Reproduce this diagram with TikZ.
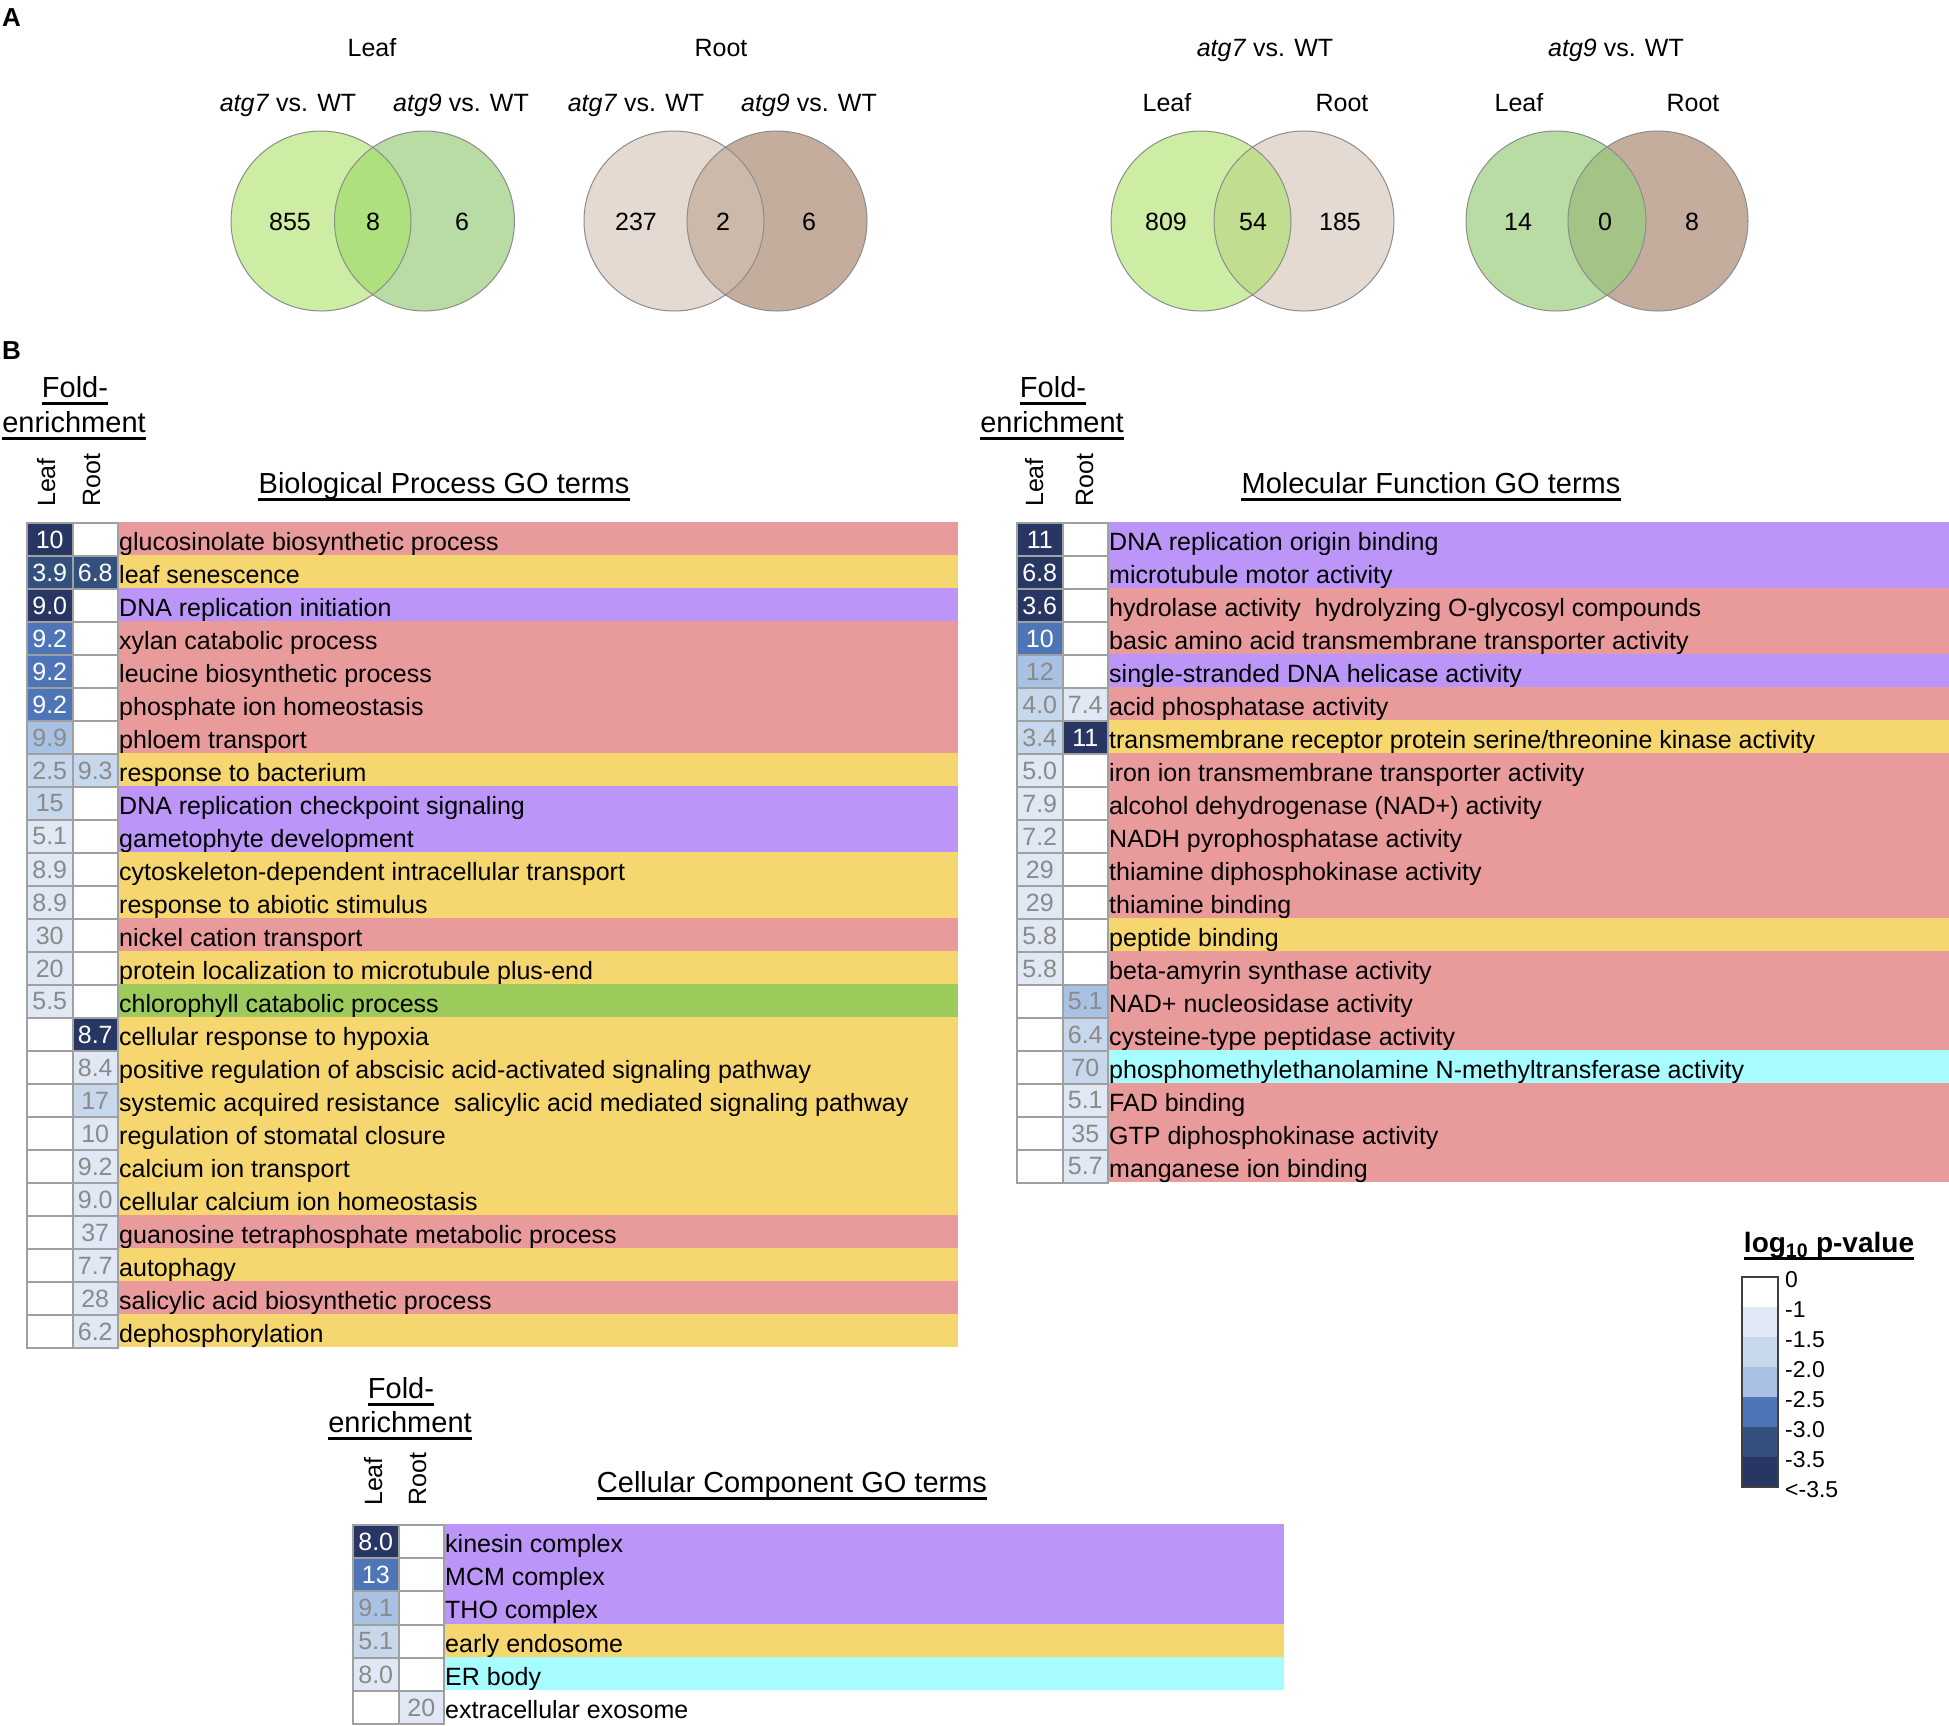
\documentclass[tikz,border=0pt]{standalone}
\usepackage{fontspec}
\setmainfont{Liberation Sans}
\usetikzlibrary{calc}
\definecolor{pv2}{HTML}{DFE8F4}
\definecolor{pv3}{HTML}{C7D7EC}
\definecolor{pv4}{HTML}{A9C2E4}
\definecolor{pv5}{HTML}{4E75B7}
\definecolor{pv6}{HTML}{34507E}
\definecolor{pv7}{HTML}{283663}
\definecolor{numgray}{HTML}{8A8A8A}
\definecolor{cellborder}{HTML}{A0A0A0}
\definecolor{goRed}{HTML}{E99B9B}
\definecolor{goYel}{HTML}{F5D66F}
\definecolor{goPur}{HTML}{BC95F8}
\definecolor{goGrn}{HTML}{9CCB5B}
\definecolor{goCyn}{HTML}{A6FCFE}
\definecolor{lfA}{HTML}{CDEDA5}
\definecolor{lfB}{HTML}{B9DCA5}
\definecolor{lfO}{HTML}{AEE07D}
\definecolor{rtA}{HTML}{E4DAD2}
\definecolor{rtB}{HTML}{C4AD9C}
\definecolor{rtO}{HTML}{CDB9AA}
\definecolor{mxO}{HTML}{C1DE90}
\definecolor{myO}{HTML}{A4C387}
\definecolor{vline}{HTML}{8C8C8C}

\tikzset{
  cellbox/.style={draw=cellborder, line width=2pt, minimum width=45.5pt, minimum height=\rowh pt,
    inner sep=0pt, anchor=north west, font=\fontsize{25}{25}\selectfont},
  lv1/.style={fill=white},
  lv2/.style={fill=pv2,text=numgray},
  lv3/.style={fill=pv3,text=numgray},
  lv4/.style={fill=pv4,text=numgray},
  lv5/.style={fill=pv5,text=white},
  lv6/.style={fill=pv6,text=white},
  lv7/.style={fill=pv7,text=white},
  rowtext/.style={anchor=base west, inner sep=0pt, font=\fontsize{25}{25}\selectfont},
  lbl/.style={anchor=base, inner sep=0pt, font=\fontsize{25}{25}\selectfont},
  vtext/.style={anchor=base west, rotate=90, inner sep=0pt, font=\fontsize{25}{25}\selectfont},
  vennline/.style={draw=vline, line width=1pt},
  leglbl/.style={anchor=west, inner sep=0pt, font=\fontsize{23}{23}\selectfont},
  panel/.style={anchor=base west, inner sep=0pt, font=\fontsize{26}{26}\selectfont\bfseries}
}

% #1 name, #2 row index, #3 leaf val, #4 leaf lvl, #5 root val, #6 root lvl, #7 bar colour, #8 text
\newcommand{\gorow}[8]{%
  \pgfmathsetmacro{\rt}{\rowtop+\rowh*#2}%
  \fill[#7] (\colx+91,\rt) rectangle (\barx,\rt+\rowh);
  \node[cellbox,lv#4] (#1-l) at (\colx,\rt) {\lower2.5pt\hbox{#3}};
  \node[cellbox,lv#6] (#1-r) at (\colx+45.5,\rt) {\lower2.5pt\hbox{#5}};
  \node[rowtext] (#1-t) at (\colx+93,\rt+28.5) {#8};
}
% underlined text: #1 name, #2 x, #3 baseline y, #4 size, #5 text
\newcommand{\ulnode}[5]{%
  \node[anchor=base, inner sep=0pt, font=\fontsize{#4}{#4}\selectfont] (#1) at (#2,#3) {#5};
  \draw[line width=2.8pt] ([yshift=-6.5pt]#1.base west) -- ([yshift=-6.5pt]#1.base east);
}
% venn: #1 left cx, #2 right cx, #3 left col, #4 right col, #5 overlap col
\newcommand{\vennpair}[5]{%
  \fill[#3] (#1,221) circle[radius=90];
  \fill[#4] (#2,221) circle[radius=90];
  \begin{scope}
    \clip (#1,221) circle[radius=90];
    \fill[#5] (#2,221) circle[radius=90];
  \end{scope}
  \draw[vennline] (#1,221) circle[radius=90] (#2,221) circle[radius=90];
}

\begin{document}
\begin{tikzpicture}[x=1pt,y=-1pt]
\useasboundingbox (0,0) rectangle (1949,1725);
\fill[white] (0,0) rectangle (1949,1725);

% ---------------- Panel A ----------------
\node[panel] (pA) at (2,26) {A};
\node[lbl] (hLeaf) at (372,56) {Leaf};
\node[lbl] (hRoot) at (721,56) {Root};
\node[lbl] (h7) at (1265,56) {\textit{atg7} vs. WT};
\node[lbl] (h9) at (1616,56) {\textit{atg9} vs. WT};

\node[lbl] (s1a) at (288,111) {\textit{atg7} vs. WT};
\node[lbl] (s1b) at (461,111) {\textit{atg9} vs. WT};
\node[lbl] (s2a) at (636,111) {\textit{atg7} vs. WT};
\node[lbl] (s2b) at (809,111) {\textit{atg9} vs. WT};
\node[lbl] (s3a) at (1167,111) {Leaf};
\node[lbl] (s3b) at (1342,111) {Root};
\node[lbl] (s4a) at (1519,111) {Leaf};
\node[lbl] (s4b) at (1693,111) {Root};

\vennpair{321}{424.5}{lfA}{lfB}{lfO}
\vennpair{674}{777}{rtA}{rtB}{rtO}
\vennpair{1201}{1304}{lfA}{rtA}{mxO}
\vennpair{1556}{1658}{lfB}{rtB}{myO}

\node[lbl] (n1a) at (290,230) {855};
\node[lbl] (n1o) at (373,230) {8};
\node[lbl] (n1b) at (462,230) {6};
\node[lbl] (n2a) at (636,230) {237};
\node[lbl] (n2o) at (723,230) {2};
\node[lbl] (n2b) at (809,230) {6};
\node[lbl] (n3a) at (1166,230) {809};
\node[lbl] (n3o) at (1253,230) {54};
\node[lbl] (n3b) at (1340,230) {185};
\node[lbl] (n4a) at (1518,230) {14};
\node[lbl] (n4o) at (1605,230) {0};
\node[lbl] (n4b) at (1692,230) {8};

% ---------------- Panel B ----------------
\node[panel] (pB) at (2,359) {B};

% Biological process
\ulnode{bpF1}{75}{397}{29}{Fold-}
\ulnode{bpF2}{74}{432}{29}{enrichment}
\node[vtext] (bpVL) at (55,507) {Leaf};
\node[vtext] (bpVR) at (100,507) {Root};
\ulnode{bpT}{444}{493}{29}{Biological Process GO terms}

\def\colx{26}\def\rowtop{522}\def\rowh{33}\def\barx{958}
\gorow{bp0}{0}{10}{7}{}{1}{goRed}{glucosinolate biosynthetic process}
\gorow{bp1}{1}{3.9}{6}{6.8}{6}{goYel}{leaf senescence}
\gorow{bp2}{2}{9.0}{7}{}{1}{goPur}{DNA replication initiation}
\gorow{bp3}{3}{9.2}{5}{}{1}{goRed}{xylan catabolic process}
\gorow{bp4}{4}{9.2}{5}{}{1}{goRed}{leucine biosynthetic process}
\gorow{bp5}{5}{9.2}{5}{}{1}{goRed}{phosphate ion homeostasis}
\gorow{bp6}{6}{9.9}{4}{}{1}{goRed}{phloem transport}
\gorow{bp7}{7}{2.5}{3}{9.3}{3}{goYel}{response to bacterium}
\gorow{bp8}{8}{15}{3}{}{1}{goPur}{DNA replication checkpoint signaling}
\gorow{bp9}{9}{5.1}{2}{}{1}{goPur}{gametophyte development}
\gorow{bp10}{10}{8.9}{2}{}{1}{goYel}{cytoskeleton-dependent intracellular transport}
\gorow{bp11}{11}{8.9}{2}{}{1}{goYel}{response to abiotic stimulus}
\gorow{bp12}{12}{30}{2}{}{1}{goRed}{nickel cation transport}
\gorow{bp13}{13}{20}{2}{}{1}{goYel}{protein localization to microtubule plus-end}
\gorow{bp14}{14}{5.5}{2}{}{1}{goGrn}{chlorophyll catabolic process}
\gorow{bp15}{15}{}{1}{8.7}{7}{goYel}{cellular response to hypoxia}
\gorow{bp16}{16}{}{1}{8.4}{2}{goYel}{positive regulation of abscisic acid-activated signaling pathway}
\gorow{bp17}{17}{}{1}{17}{3}{goYel}{systemic acquired resistance\ \ salicylic acid mediated signaling pathway}
\gorow{bp18}{18}{}{1}{10}{2}{goYel}{regulation of stomatal closure}
\gorow{bp19}{19}{}{1}{9.2}{2}{goYel}{calcium ion transport}
\gorow{bp20}{20}{}{1}{9.0}{2}{goYel}{cellular calcium ion homeostasis}
\gorow{bp21}{21}{}{1}{37}{2}{goRed}{guanosine tetraphosphate metabolic process}
\gorow{bp22}{22}{}{1}{7.7}{2}{goYel}{autophagy}
\gorow{bp23}{23}{}{1}{28}{2}{goRed}{salicylic acid biosynthetic process}
\gorow{bp24}{24}{}{1}{6.2}{2}{goYel}{dephosphorylation}

% Molecular function
\ulnode{mfF1}{1053}{397}{29}{Fold-}
\ulnode{mfF2}{1052}{432}{29}{enrichment}
\node[vtext] (mfVL) at (1043,507) {Leaf};
\node[vtext] (mfVR) at (1093,507) {Root};
\ulnode{mfT}{1431}{493}{29}{Molecular Function GO terms}

\def\colx{1016}\def\rowtop{522}\def\rowh{33}\def\barx{1949}
\gorow{mf0}{0}{11}{7}{}{1}{goPur}{DNA replication origin binding}
\gorow{mf1}{1}{6.8}{7}{}{1}{goPur}{microtubule motor activity}
\gorow{mf2}{2}{3.6}{7}{}{1}{goRed}{hydrolase activity\ \ hydrolyzing O-glycosyl compounds}
\gorow{mf3}{3}{10}{5}{}{1}{goRed}{basic amino acid transmembrane transporter activity}
\gorow{mf4}{4}{12}{4}{}{1}{goPur}{single-stranded DNA helicase activity}
\gorow{mf5}{5}{4.0}{3}{7.4}{2}{goRed}{acid phosphatase activity}
\gorow{mf6}{6}{3.4}{3}{11}{7}{goYel}{transmembrane receptor protein serine/threonine kinase activity}
\gorow{mf7}{7}{5.0}{2}{}{1}{goRed}{iron ion transmembrane transporter activity}
\gorow{mf8}{8}{7.9}{2}{}{1}{goRed}{alcohol dehydrogenase (NAD+) activity}
\gorow{mf9}{9}{7.2}{2}{}{1}{goRed}{NADH pyrophosphatase activity}
\gorow{mf10}{10}{29}{2}{}{1}{goRed}{thiamine diphosphokinase activity}
\gorow{mf11}{11}{29}{2}{}{1}{goRed}{thiamine binding}
\gorow{mf12}{12}{5.8}{2}{}{1}{goYel}{peptide binding}
\gorow{mf13}{13}{5.8}{2}{}{1}{goRed}{beta-amyrin synthase activity}
\gorow{mf14}{14}{}{1}{5.1}{4}{goRed}{NAD+ nucleosidase activity}
\gorow{mf15}{15}{}{1}{6.4}{3}{goRed}{cysteine-type peptidase activity}
\gorow{mf16}{16}{}{1}{70}{3}{goCyn}{phosphomethylethanolamine N-methyltransferase activity}
\gorow{mf17}{17}{}{1}{5.1}{2}{goRed}{FAD binding}
\gorow{mf18}{18}{}{1}{35}{2}{goRed}{GTP diphosphokinase activity}
\gorow{mf19}{19}{}{1}{5.7}{2}{goRed}{manganese ion binding}

% Cellular component
\ulnode{ccF1}{401}{1398}{29}{Fold-}
\ulnode{ccF2}{400}{1432}{29}{enrichment}
\node[vtext] (ccVL) at (382,1506) {Leaf};
\node[vtext] (ccVR) at (426,1506) {Root};
\ulnode{ccT}{792}{1492}{29}{Cellular Component GO terms}

\def\colx{352}\def\rowtop{1524}\def\rowh{33.2}\def\barx{1284}
\gorow{cc0}{0}{8.0}{7}{}{1}{goPur}{kinesin complex}
\gorow{cc1}{1}{13}{5}{}{1}{goPur}{MCM complex}
\gorow{cc2}{2}{9.1}{4}{}{1}{goPur}{THO complex}
\gorow{cc3}{3}{5.1}{3}{}{1}{goYel}{early endosome}
\gorow{cc4}{4}{8.0}{2}{}{1}{goCyn}{ER body}
\gorow{cc5}{5}{}{1}{20}{2}{white}{extracellular exosome}

% Legend
\node[anchor=base, inner sep=0pt, font=\fontsize{28}{28}\selectfont\bfseries] (legT) at (1829,1252) {log\textsubscript{10} p-value};
\draw[line width=2.8pt] ([yshift=-6.5pt]legT.base west) -- ([yshift=-6.5pt]legT.base east);
\foreach \c [count=\k from 0] in {white,pv2,pv3,pv4,pv5,pv6,pv7}{
  \fill[\c] (1742,1277+30*\k) rectangle (1778,1307+30*\k);
}
\draw[draw=black!75, line width=1.5pt] (1742,1277) rectangle (1778,1487);
\foreach \t [count=\k from 0] in {0,-1,-1.5,-2.0,-2.5,-3.0,-3.5,<-3.5}{
  \node[leglbl] (leg\k) at (1785,1280+30*\k) {\t};
}
\end{tikzpicture}
\end{document}
